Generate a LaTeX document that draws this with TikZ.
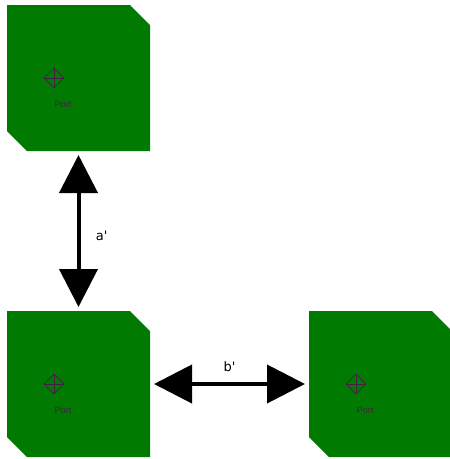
\documentclass[tikz,border=0pt]{standalone}
\usepackage{fontspec}
\setsansfont{DejaVu Sans}
\newfontfamily\portfont{Liberation Sans}
\usetikzlibrary{arrows.meta,positioning,shapes.geometric}
\definecolor{blockgreen}{HTML}{007A00}
\definecolor{portpurple}{HTML}{442048}

\tikzset{
  block/.style={rectangle, minimum width=143pt, minimum height=146pt, inner sep=0pt, outer sep=0pt},
  portmark/.style={diamond, draw=portpurple, line width=0.6pt, minimum size=20pt, inner sep=0pt},
  portlabel/.style={font=\portfont\fontsize{9}{10}\selectfont, text=portpurple},
  dimarrow/.style={{Triangle[length=38pt,width=38pt]}-{Triangle[length=38pt,width=38pt]},
    line width=4pt, shorten >=4pt, shorten <=4pt},
  dimlabel/.style={font=\sffamily\fontsize{13}{15}\selectfont},
}

\begin{document}
\begin{tikzpicture}[x=1pt,y=-1pt]
  \useasboundingbox (0,0) rectangle (450,459);
  % the three blocks
  \node[block] (upper) at (78.5,78) {};
  \node[block] (lower) at (78.5,384) {};
  \node[block] (side) at (380.5,384) {};
  \foreach \b in {upper,lower,side} {
    \fill[blockgreen] (\b.north west) -- ([xshift=-20pt]\b.north east) -- ([yshift=-20pt]\b.north east)
      -- (\b.south east) -- ([xshift=20pt]\b.south west) -- ([yshift=20pt]\b.south west) -- cycle;
    % port
    \node[portmark] (\b port) at ([xshift=-24.5pt]\b.center) {};
    \draw[portpurple, line width=0.6pt] (\b port.north) -- (\b port.south) (\b port.west) -- (\b port.east);
    \node[portlabel] (\b text) at ([xshift=9pt,yshift=-26pt]\b port.center) {Port};
  }
  % distances
  \draw[dimarrow] (upper.south) -- (lower.north) node[midway, right=12pt, yshift=-5pt, dimlabel] (alabel) {a\textquotesingle};
  \draw[dimarrow] (lower.east) -- (side.west) node[midway, above=7pt, dimlabel] (blabel) {b\textquotesingle};
\end{tikzpicture}
\end{document}
